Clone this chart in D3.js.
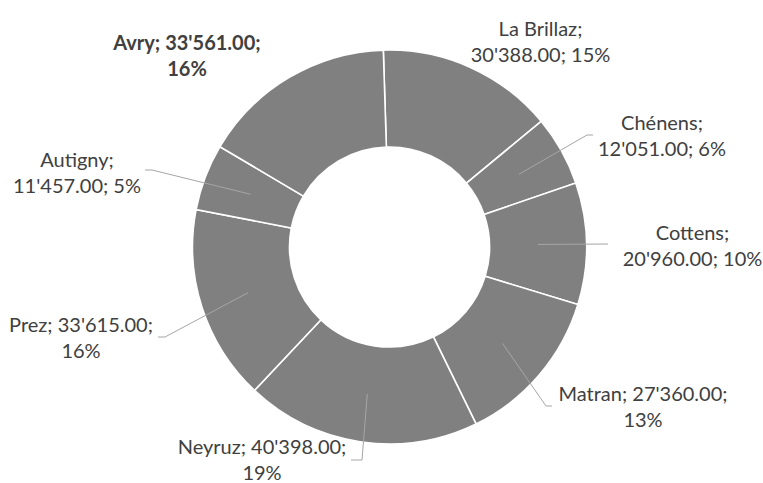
<!DOCTYPE html>
<html>
<head>
<meta charset="utf-8">
<script src="https://cdn.jsdelivr.net/npm/d3@7"></script>
<style>
  html, body { margin: 0; padding: 0; background: #ffffff; }
  svg { display: block; }
</style>
</head>
<body>
<div id="chart"></div>
<script>
// ---- data ----
const categories = ["La Brillaz", "Chénens", "Cottens", "Matran", "Neyruz", "Prez", "Autigny", "Avry"];
const values = [30388, 12051, 20960, 27360, 40398, 33615, 11457, 33561];
const percentLabels = ["15%", "6%", "10%", "13%", "19%", "16%", "5%", "16%"];

// ---- layout (label placement, as in the reference) ----
const labelX = [540.5, 662, 692.5, 643, 262, 81, 77, 187];
const labelY = [36, 130, 239.5, 401, 454, 332, 167, 50];
const breakAfter = [1, 1, 1, 2, 2, 2, 1, 2];
const boldLabel = [false, false, false, false, false, false, false, true];
const leaderEnds = [
  null,
  [[587, 135], [593, 135]],
  [[608, 244]],
  [[546, 406], [552, 406]],
  [[362, 460], [351, 460]],
  [[165, 337], [158, 337]],
  [[152, 170], [145, 170]],
  null
];

const W = 763, H = 483;
const cx = 389.5, cy = 247;
const outerR = 197, innerR = 100;
const rot = -1.8 * Math.PI / 180;
const fontSize = 20;
const lineH = 26.2;

const svg = d3.select("#chart").append("svg")
  .attr("width", W).attr("height", H)
  .attr("font-family", "Lato, 'Open Sans', sans-serif");

const pie = d3.pie().sort(null).value(d => d)
  .startAngle(rot).endAngle(rot + 2 * Math.PI);
const arcs = pie(values);
const arc = d3.arc().innerRadius(innerR).outerRadius(outerR);

const g = svg.append("g").attr("transform", `translate(${cx},${cy})`);
g.selectAll("path.slice").data(arcs).enter().append("path")
  .attr("class", "slice")
  .attr("d", arc)
  .attr("fill", "#808080")
  .attr("stroke", "#ffffff")
  .attr("stroke-width", 1.6)
  .attr("stroke-linejoin", "miter");

// leader lines
const line = d3.line();
arcs.forEach((a, i) => {
  if (!leaderEnds[i]) return;
  const c = arc.centroid(a);
  const pts = [[cx + c[0], cy + c[1]]].concat(leaderEnds[i]);
  svg.append("path")
    .attr("d", line(pts))
    .attr("fill", "none")
    .attr("stroke", "#a6a6a6")
    .attr("stroke-width", 1);
});

// labels
const fmt = v => d3.format(",.2f")(v).replace(/,/g, "'");
categories.forEach((name, i) => {
  const parts = [name + ";", fmt(values[i]) + ";", percentLabels[i]];
  const l1 = parts.slice(0, breakAfter[i]).join(" ");
  const l2 = parts.slice(breakAfter[i]).join(" ");
  const t = svg.append("text")
    .attr("text-anchor", "middle")
    .attr("font-size", fontSize)
    .attr("font-weight", boldLabel[i] ? "bold" : "normal")
    .attr("fill", "#404040");
  t.append("tspan").attr("x", labelX[i]).attr("y", labelY[i]).text(l1);
  t.append("tspan").attr("x", labelX[i]).attr("y", labelY[i] + lineH).text(l2);
});
</script>
</body>
</html>
